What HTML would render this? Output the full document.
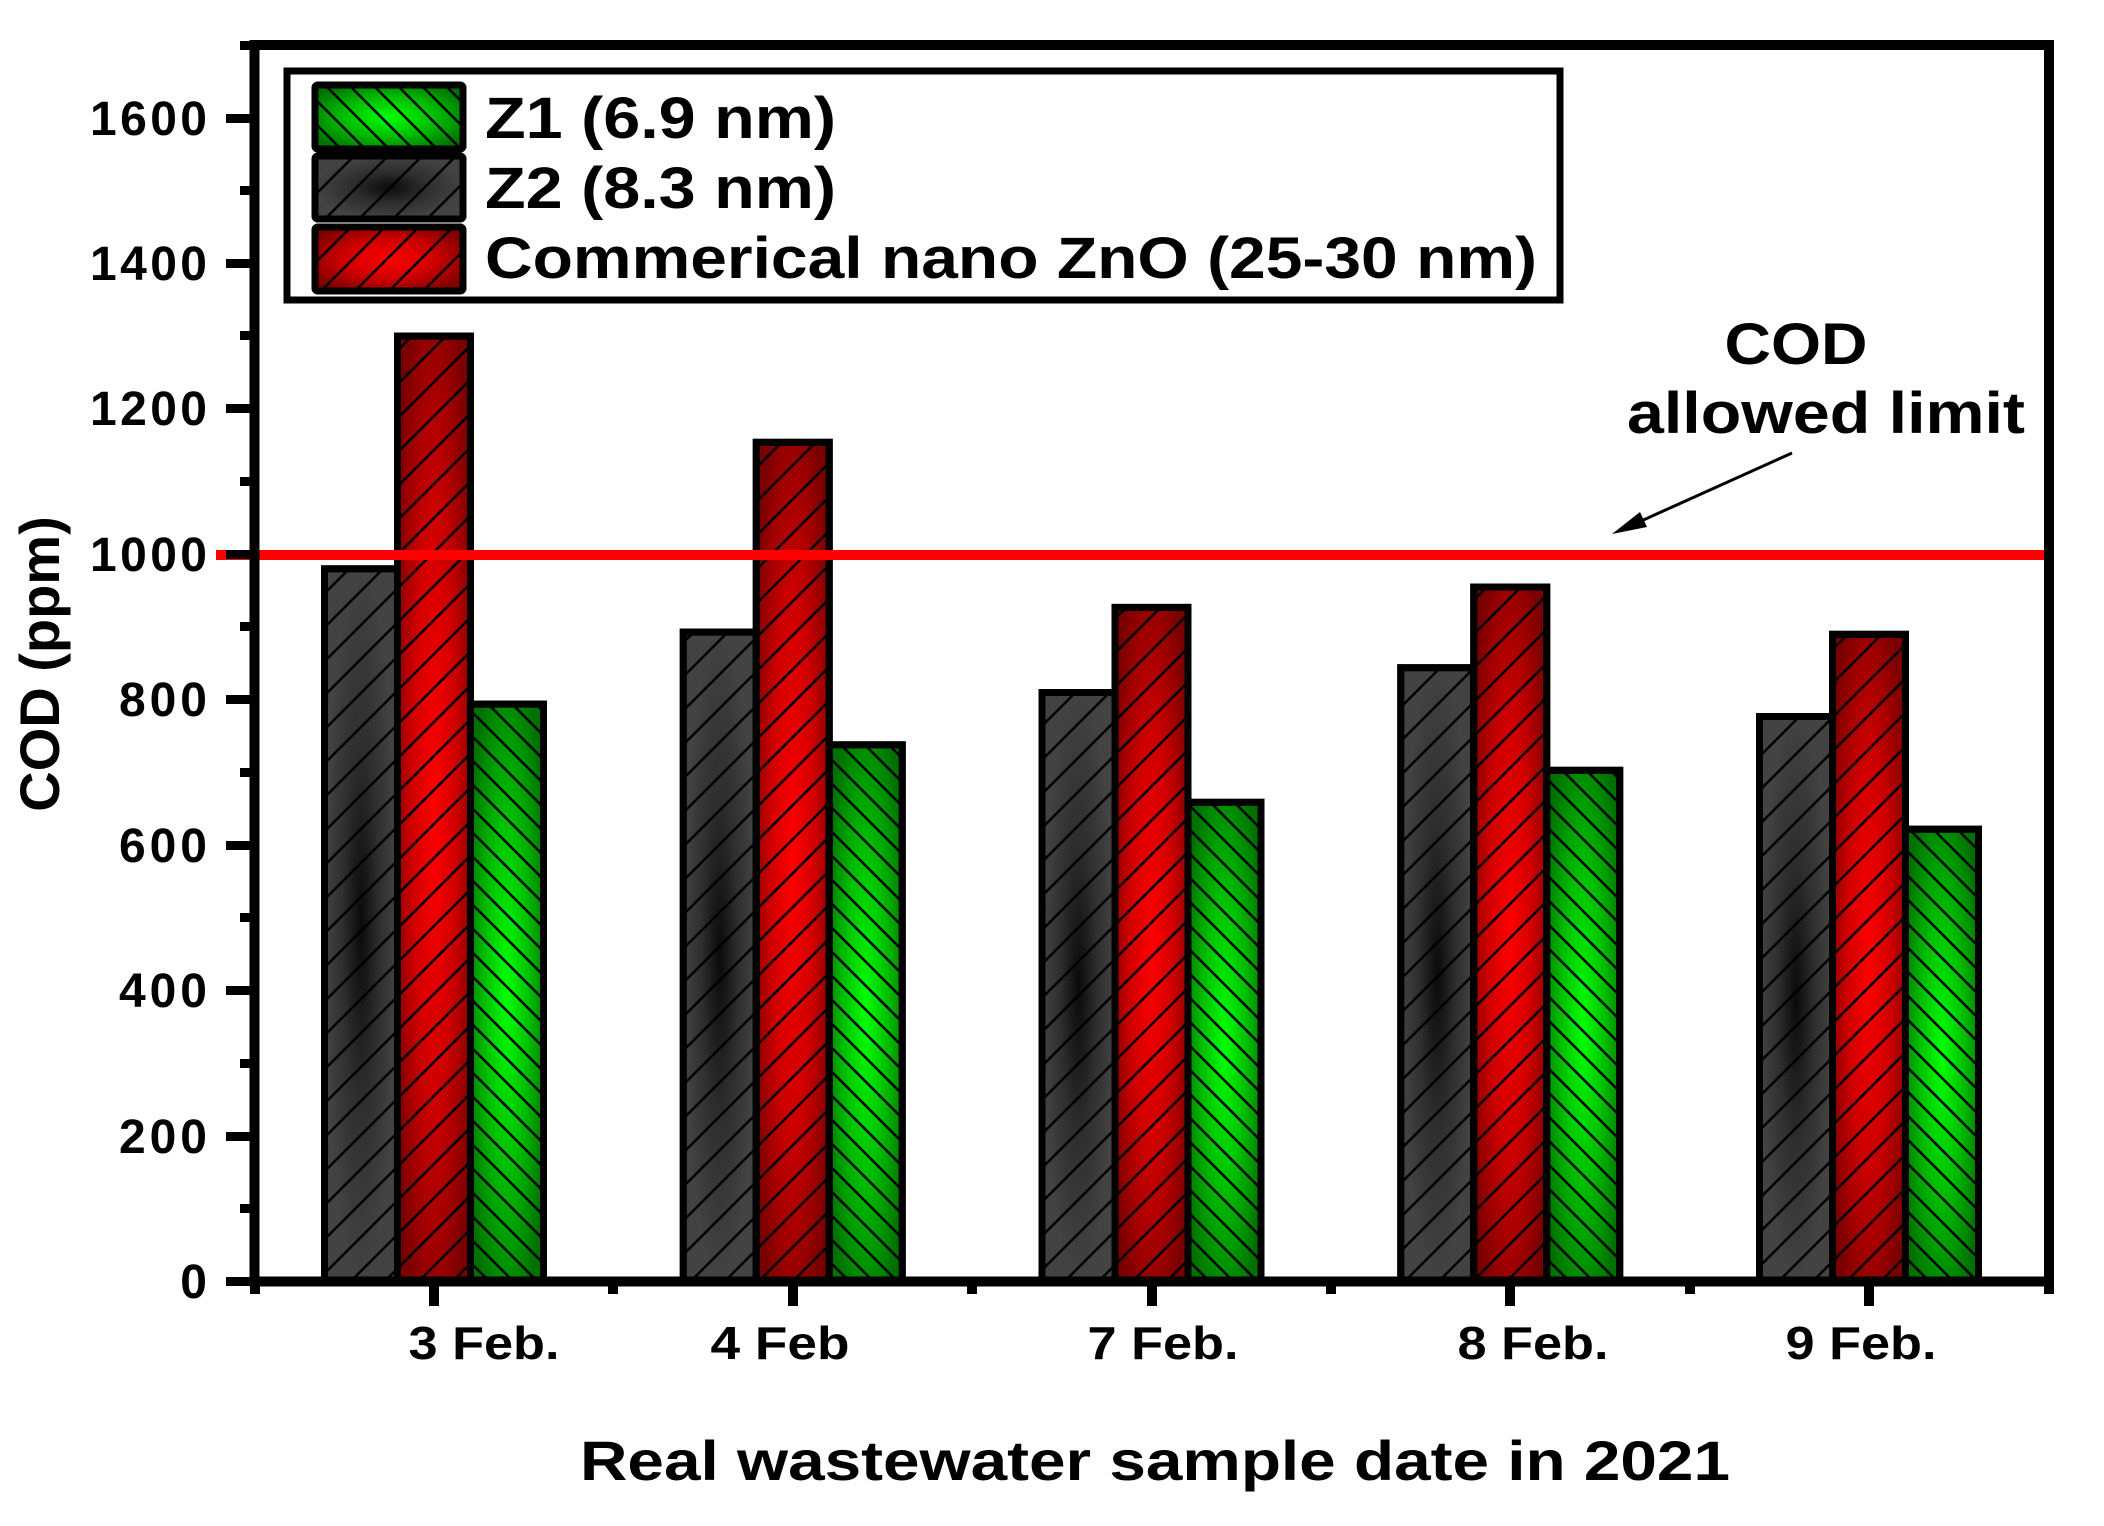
<!DOCTYPE html>
<html><head><meta charset="utf-8"><style>html,body{margin:0;padding:0;background:#fff}svg{display:block}</style></head><body>
<svg width="2104" height="1526" viewBox="0 0 2104 1526" xmlns="http://www.w3.org/2000/svg" font-family="Liberation Sans, Arial, sans-serif" font-weight="bold">
<defs>
<radialGradient id="gR" cx="50%" cy="50%" r="60%"><stop offset="0" stop-color="#ff0000"/><stop offset="0.5" stop-color="#d00000"/><stop offset="1" stop-color="#7a0000"/></radialGradient>
<radialGradient id="gG" cx="50%" cy="50%" r="60%"><stop offset="0" stop-color="#00ff00"/><stop offset="0.5" stop-color="#00c000"/><stop offset="1" stop-color="#007000"/></radialGradient>
<radialGradient id="gK" cx="50%" cy="50%" r="50%"><stop offset="0" stop-color="#0a0a0a"/><stop offset="0.5" stop-color="#2e2e2e"/><stop offset="1" stop-color="#434343"/></radialGradient>
<pattern id="hF" patternUnits="userSpaceOnUse" width="34" height="34"><path d="M-4,38 L38,-4 M-4,4 L4,-4 M30,38 L38,30" stroke="#000" stroke-width="2.5"/></pattern>
<pattern id="hB" patternUnits="userSpaceOnUse" width="24" height="24"><path d="M-4,-4 L28,28 M-4,20 L4,28 M20,-4 L28,4" stroke="#000" stroke-width="2.5"/></pattern>
</defs>
<rect width="2104" height="1526" fill="#fff"/>
<g stroke="#000" stroke-width="7">
<rect x="324.5" y="568.8" width="73" height="712.7" fill="url(#gK)"/><rect x="324.5" y="568.8" width="73" height="712.7" fill="url(#hF)"/>
<rect x="397.5" y="336.1" width="73" height="945.4" fill="url(#gR)"/><rect x="397.5" y="336.1" width="73" height="945.4" fill="url(#hF)"/>
<rect x="470.5" y="704.1" width="73" height="577.4" fill="url(#gG)"/><rect x="470.5" y="704.1" width="73" height="577.4" fill="url(#hB)"/>

<rect x="683.25" y="632.1" width="73" height="649.4" fill="url(#gK)"/><rect x="683.25" y="632.1" width="73" height="649.4" fill="url(#hF)"/>
<rect x="756.25" y="442.3" width="73" height="839.2" fill="url(#gR)"/><rect x="756.25" y="442.3" width="73" height="839.2" fill="url(#hF)"/>
<rect x="829.25" y="744.8" width="73" height="536.7" fill="url(#gG)"/><rect x="829.25" y="744.8" width="73" height="536.7" fill="url(#hB)"/>

<rect x="1042" y="692.5" width="73" height="589" fill="url(#gK)"/><rect x="1042" y="692.5" width="73" height="589" fill="url(#hF)"/>
<rect x="1115" y="607.4" width="73" height="674.1" fill="url(#gR)"/><rect x="1115" y="607.4" width="73" height="674.1" fill="url(#hF)"/>
<rect x="1188" y="802.3" width="73" height="479.2" fill="url(#gG)"/><rect x="1188" y="802.3" width="73" height="479.2" fill="url(#hB)"/>

<rect x="1400.75" y="667.7" width="73" height="613.8" fill="url(#gK)"/><rect x="1400.75" y="667.7" width="73" height="613.8" fill="url(#hF)"/>
<rect x="1473.75" y="587" width="73" height="694.5" fill="url(#gR)"/><rect x="1473.75" y="587" width="73" height="694.5" fill="url(#hF)"/>
<rect x="1546.75" y="770.3" width="73" height="511.2" fill="url(#gG)"/><rect x="1546.75" y="770.3" width="73" height="511.2" fill="url(#hB)"/>

<rect x="1759.5" y="716.5" width="73" height="565" fill="url(#gK)"/><rect x="1759.5" y="716.5" width="73" height="565" fill="url(#hF)"/>
<rect x="1832.5" y="634.3" width="73" height="647.2" fill="url(#gR)"/><rect x="1832.5" y="634.3" width="73" height="647.2" fill="url(#hF)"/>
<rect x="1905.5" y="829.2" width="73" height="452.3" fill="url(#gG)"/><rect x="1905.5" y="829.2" width="73" height="452.3" fill="url(#hB)"/>
</g>
<rect x="216" y="550" width="1834" height="10" fill="#ff0000"/>
<rect x="254.5" y="45" width="1794.5" height="1236.5" fill="none" stroke="#000" stroke-width="10"/>
<g fill="#000">
<rect x="226" y="1277" width="28" height="9"/><rect x="226" y="1132" width="28" height="9"/><rect x="226" y="986" width="28" height="9"/><rect x="226" y="841" width="28" height="9"/><rect x="226" y="695" width="28" height="9"/><rect x="226" y="550" width="28" height="9"/><rect x="226" y="404" width="28" height="9"/><rect x="226" y="259" width="28" height="9"/><rect x="226" y="114" width="28" height="9"/>
<rect x="240" y="1204" width="14" height="9"/><rect x="240" y="1059" width="14" height="9"/><rect x="240" y="913" width="14" height="9"/><rect x="240" y="768" width="14" height="9"/><rect x="240" y="622" width="14" height="9"/><rect x="240" y="477" width="14" height="9"/><rect x="240" y="331" width="14" height="9"/><rect x="240" y="186" width="14" height="9"/><rect x="240" y="41" width="14" height="9"/>
<rect x="429" y="1281" width="10" height="25"/><rect x="788" y="1281" width="10" height="25"/><rect x="1147" y="1281" width="10" height="25"/><rect x="1505" y="1281" width="10" height="25"/><rect x="1864" y="1281" width="10" height="25"/>
<rect x="250" y="1281" width="10" height="13"/><rect x="608" y="1281" width="10" height="13"/><rect x="967" y="1281" width="10" height="13"/><rect x="1326" y="1281" width="10" height="13"/><rect x="1685" y="1281" width="10" height="13"/><rect x="2044" y="1281" width="10" height="13"/>
</g>
<g font-size="48" text-anchor="end" lengthAdjust="spacingAndGlyphs">
<text x="207" y="1298" textLength="29">0</text>
<text x="207" y="1153" textLength="88">200</text><text x="207" y="1007" textLength="88">400</text><text x="207" y="862" textLength="88">600</text><text x="207" y="716" textLength="88">800</text>
<text x="207" y="571" textLength="117">1000</text><text x="207" y="425" textLength="117">1200</text><text x="207" y="280" textLength="117">1400</text><text x="207" y="135" textLength="117">1600</text>
</g>
<g font-size="46" text-anchor="middle">
<text x="484" y="1359" textLength="151" lengthAdjust="spacingAndGlyphs">3 Feb.</text>
<text x="780" y="1359" textLength="139" lengthAdjust="spacingAndGlyphs">4 Feb</text>
<text x="1163" y="1359" textLength="151" lengthAdjust="spacingAndGlyphs">7 Feb.</text>
<text x="1533" y="1359" textLength="151" lengthAdjust="spacingAndGlyphs">8 Feb.</text>
<text x="1861" y="1359" textLength="151" lengthAdjust="spacingAndGlyphs">9 Feb.</text>
</g>
<text x="1155" y="1480" font-size="56" text-anchor="middle" textLength="1150" lengthAdjust="spacingAndGlyphs">Real wastewater sample date in 2021</text>
<text transform="translate(59,664) rotate(-90)" font-size="56" text-anchor="middle">COD (ppm)</text>
<text x="1796" y="364" font-size="58" text-anchor="middle" textLength="143" lengthAdjust="spacingAndGlyphs">COD</text>
<text x="1826" y="433" font-size="58" text-anchor="middle" textLength="398" lengthAdjust="spacingAndGlyphs">allowed limit</text>
<line x1="1792" y1="453" x2="1630" y2="526" stroke="#000" stroke-width="3"/>
<polygon points="1612,534 1640,512 1647,527" fill="#000"/>
<rect x="287" y="71" width="1273" height="229" fill="#fff" stroke="#000" stroke-width="7"/>
<g stroke="#000" stroke-width="7">
<rect x="315" y="85" width="148" height="64" fill="url(#gG)" rx="3"/><rect x="315" y="85" width="148" height="64" fill="url(#hB)" rx="3"/>
<rect x="315" y="156" width="148" height="63" fill="url(#gK)" rx="3"/><rect x="315" y="156" width="148" height="63" fill="url(#hF)" rx="3"/>
<rect x="315" y="227" width="148" height="64" fill="url(#gR)" rx="3"/><rect x="315" y="227" width="148" height="64" fill="url(#hF)" rx="3"/>
</g>
<g font-size="58">
<text x="485" y="138" textLength="351" lengthAdjust="spacingAndGlyphs">Z1 (6.9 nm)</text>
<text x="485" y="208" textLength="351" lengthAdjust="spacingAndGlyphs">Z2 (8.3 nm)</text>
<text x="485" y="278" textLength="1052" lengthAdjust="spacingAndGlyphs">Commerical nano ZnO (25-30 nm)</text>
</g>
</svg>
</body></html>
